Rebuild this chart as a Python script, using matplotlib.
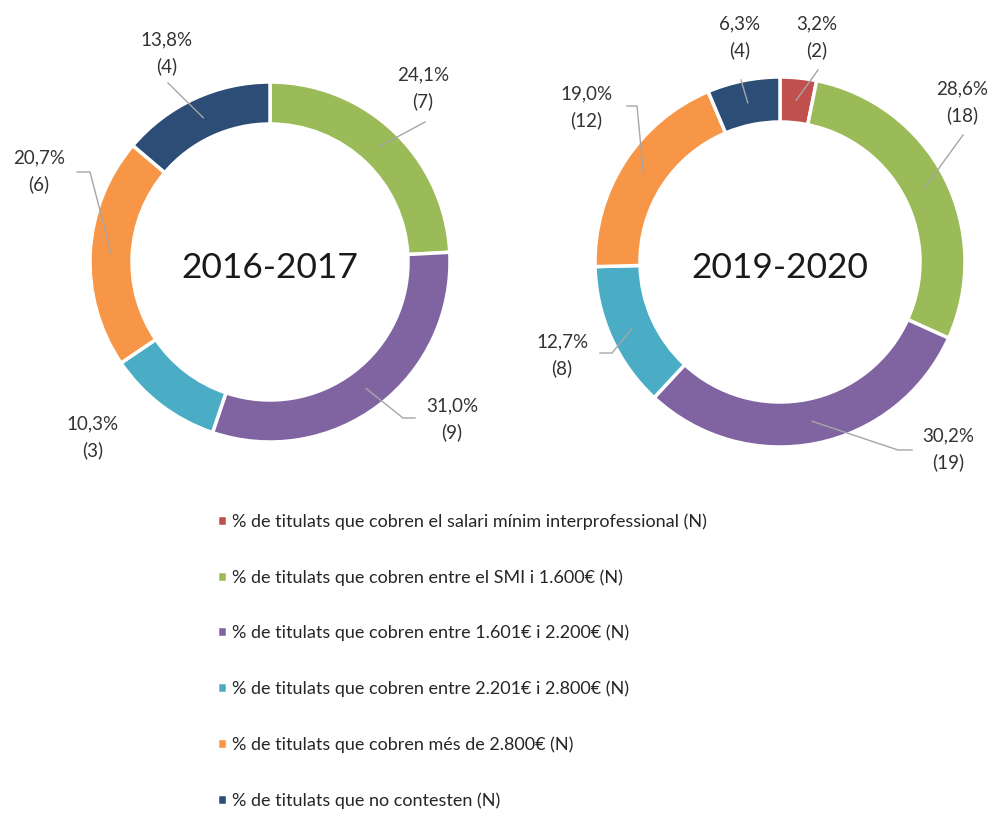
import matplotlib
matplotlib.use('Agg')
import matplotlib.pyplot as plt
import numpy as np

plt.rcParams['font.family'] = ['Lato', 'DejaVu Sans']

# Data
categories = ['% de titulats que cobren el salari mínim interprofessional (N)',
              '% de titulats que cobren entre el SMI i 1.600€ (N)',
              '% de titulats que cobren entre 1.601€ i 2.200€ (N)',
              '% de titulats que cobren entre 2.201€ i 2.800€ (N)',
              '% de titulats que cobren més de 2.800€ (N)',
              '% de titulats que no contesten (N)']
colors = ['#C0504D', '#9BBB59', '#8064A2', '#4BACC6', '#F79646', '#2C4D75']
years = ['2016-2017', '2019-2020']
counts_1617 = [0, 7, 9, 3, 6, 4]
counts_1920 = [2, 18, 19, 8, 12, 4]

W, H = 995, 816
fig = plt.figure(figsize=(W / 100, H / 100), dpi=100)
ax = fig.add_axes([0, 0, 1, 1])

def py(y):
    # pixel row (from top) -> data y
    return H - y

# layout: centre, radius, ring width, and per-category label placement
# label: (text x, text y, [leader points from text side])
donuts = [
    dict(counts=counts_1617, center=(270, 262), radius=180, width=42,
         labels=[None,
                 ((423, 88), [(425, 122)]),
                 ((452, 419), [(415, 418), (403, 418)]),
                 ((93, 437), []),
                 ((39, 171), [(77, 172), (90, 172)]),
                 ((167, 53), [(168, 83)])]),
    dict(counts=counts_1920, center=(780, 262), radius=185, width=45,
         labels=[((817, 37), [(818, 70)]),
                 ((962, 102), [(963, 135)]),
                 ((948, 449), [(912, 450), (898, 450)]),
                 ((562, 355), [(600, 353), (612, 353)]),
                 ((586, 107), [(627, 106), (637, 106)]),
                 ((740, 37), [(741, 80)])]),
]

legend_wedges = None
for year, d in zip(years, donuts):
    counts = np.array(d['counts'])
    keep = [i for i, c in enumerate(counts) if c > 0]
    cx, cy = d['center']
    wedges, _ = ax.pie(counts[keep], colors=[colors[i] for i in keep],
                       radius=d['radius'], center=(cx, py(cy)),
                       startangle=90, counterclock=False,
                       wedgeprops=dict(width=d['width'], edgecolor='white', linewidth=2.5))
    if len(keep) == len(categories):
        legend_wedges = wedges
    total = counts.sum()
    rmid = d['radius'] - d['width'] / 2
    for w, i in zip(wedges, keep):
        lab = d['labels'][i]
        if lab is None:
            continue
        (tx, ty), pts = lab
        pct = f"{counts[i] / total * 100:.1f}".replace('.', ',')
        ax.text(tx, py(ty), f"{pct}%\n({counts[i]})", ha='center', va='center',
                fontsize=13.5, color='#333333', linespacing=1.6)
        if pts:
            ang = np.deg2rad((w.theta1 + w.theta2) / 2)
            ax_pt = (cx + rmid * np.cos(ang), py(cy) + rmid * np.sin(ang))
            xs = [p[0] for p in pts] + [ax_pt[0]]
            ys = [py(p[1]) for p in pts] + [ax_pt[1]]
            ax.plot(xs, ys, color='#A6A6A6', lw=1)
    ax.text(cx, py(cy + 6), year, ha='center', va='center', fontsize=25.5, color='#1a1a1a')

ax.set_xlim(0, W)
ax.set_ylim(0, H)
ax.set_aspect('equal')
ax.axis('off')

ax.legend(legend_wedges, categories, loc='upper left',
          bbox_to_anchor=(201 / W, 1 - 497 / H), frameon=False,
          fontsize=13, labelspacing=2.17, handlelength=0.55, handleheight=0.55,
          handletextpad=0.25, labelcolor='#262626')

fig.savefig('out.png', dpi=100)
